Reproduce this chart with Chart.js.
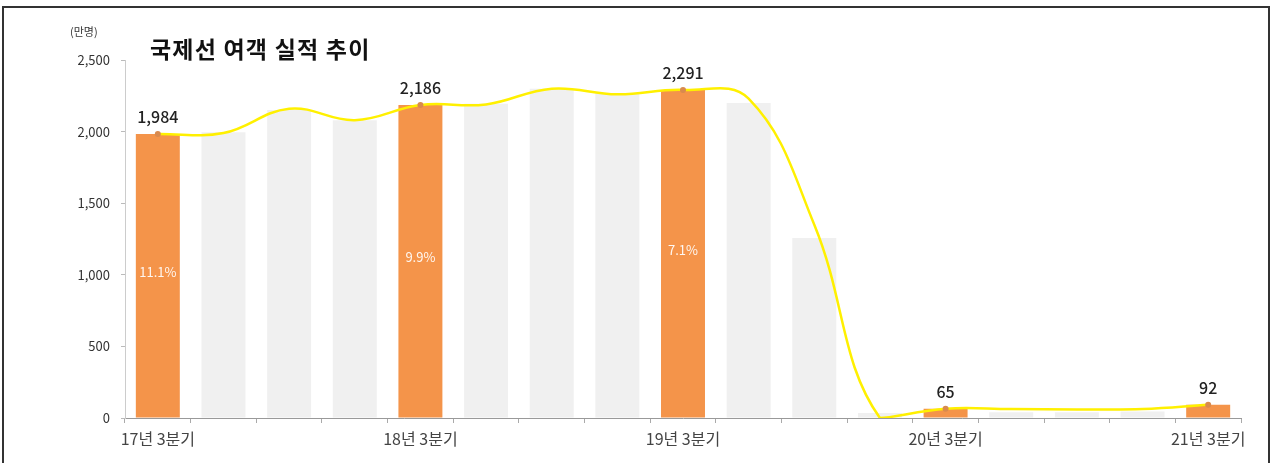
<!DOCTYPE html>
<html>
<head>
<meta charset="utf-8">
<script src="https://cdn.jsdelivr.net/npm/chart.js@4/dist/chart.umd.min.js"></script>
<style>
  html, body { margin: 0; padding: 0; background: #fff; }
  body { width: 1273px; height: 463px; position: relative; overflow: hidden; font-family: "Noto Sans CJK KR", "Noto Sans", sans-serif; }
  #frame { position: absolute; left: 2px; top: 6px; width: 1264px; height: 480px; border: 2px solid #333; border-bottom: none; }
  #chart { position: absolute; left: 0; top: 0; }
  #title { position: absolute; left: 150px; top: 33px; font-size: 23px; line-height: 30px; font-weight: bold; color: #111; letter-spacing: 1.2px; }
  #unit { position: absolute; left: 70px; top: 23px; font-size: 11px; color: #333; }
</style>
</head>
<body>
<div id="frame"></div>
<canvas id="chart" width="1273" height="463"></canvas>
<div id="unit">(만명)</div>
<div id="title">국제선 여객 실적 추이</div>
<script>
  'use strict'

  // quarters shown on the x axis
  const quarters = [
    '17년 3분기', '17년 4분기', '18년 1분기', '18년 2분기', '18년 3분기', '18년 4분기',
    '19년 1분기', '19년 2분기', '19년 3분기', '19년 4분기', '20년 1분기', '20년 2분기',
    '20년 3분기', '20년 4분기', '21년 1분기', '21년 2분기', '21년 3분기'
  ]
  // passengers (10k people) per quarter
  const passengers = [1984, 1995, 2150, 2080, 2186, 2195, 2300, 2270, 2291, 2200, 1257, 35, 65, 40, 40, 45, 92]
  // trend line drawn over the bars
  const trend = [1984, 1990, 2160, 2080, 2186, 2190, 2300, 2260, 2291, 2230, 1350, 0, 65, 62, 60, 62, 92]
  // highlighted quarters (3rd quarter of each year)
  const highlight = [0, 4, 8, 12, 16]
  // growth rate labels shown inside highlighted bars
  const growth = { 0: '11.1%', 4: '9.9%', 8: '7.1%' }
  const yTicks = [0, 500, 1000, 1500, 2000, 2500]

  const ORANGE = '#F4944A'
  const GREY = '#F0F0F0'
  const FONT = '"Noto Sans CJK KR", "Noto Sans", sans-serif'

  const barColors = passengers.map((v, i) => highlight.includes(i) ? ORANGE : GREY)
  const pointRadius = trend.map((v, i) => highlight.includes(i) ? 3 : 0)

  const labelPlugin = {
    id: 'valueLabels',
    afterDatasetsDraw(chart) {
      const ctx = chart.ctx
      const meta = chart.getDatasetMeta(1)
      ctx.save()
      ctx.textAlign = 'center'
      highlight.forEach(i => {
        const bar = meta.data[i]
        ctx.fillStyle = '#222'
        ctx.font = '500 16px ' + FONT
        ctx.textBaseline = 'bottom'
        ctx.fillText(passengers[i].toLocaleString('en-US'), bar.x, bar.y - 9)
        if (growth[i]) {
          ctx.fillStyle = 'rgba(255,255,255,0.92)'
          ctx.font = '13px ' + FONT
          ctx.textBaseline = 'middle'
          ctx.fillText(growth[i], bar.x, (bar.y + bar.base) / 2 - 4)
        }
      })
      ctx.restore()
    }
  }

  new Chart(document.getElementById('chart'), {
    data: {
      labels: quarters,
      datasets: [
        {
          type: 'line',
          data: trend,
          borderColor: '#FFF000',
          borderWidth: 2.5,
          tension: 0.4,
          pointRadius: pointRadius,
          pointBackgroundColor: '#D98A4E',
          pointBorderWidth: 0,
          order: 0
        },
        {
          type: 'bar',
          data: passengers,
          backgroundColor: barColors,
          barPercentage: 0.67,
          categoryPercentage: 1,
          order: 1
        }
      ]
    },
    options: {
      responsive: false,
      animation: false,
      layout: { padding: { left: 0, right: 32, top: 60, bottom: 0 } },
      plugins: { legend: { display: false }, tooltip: { enabled: false } },
      scales: {
        x: {
          grid: { offset: true, drawOnChartArea: false, tickLength: 5, color: '#aaa' },
          border: { color: '#999' },
          ticks: {
            autoSkip: false,
            maxRotation: 0,
            padding: 6,
            color: '#444',
            font: { family: FONT, size: 16 },
            callback: (v, i) => i % 4 === 0 ? quarters[i] : ''
          },
          afterFit: scale => { scale.height = 45 }
        },
        y: {
          min: 0,
          max: 2500,
          afterBuildTicks: scale => { scale.ticks = yTicks.map(v => ({ value: v })) },
          grid: { drawOnChartArea: false, tickLength: 4, color: '#bbb' },
          border: { color: '#ccc' },
          ticks: {
            padding: 11,
            color: '#333',
            font: { family: FONT, size: 13 },
            callback: v => v.toLocaleString('en-US')
          },
          afterFit: scale => { scale.width = 125 }
        }
      }
    },
    plugins: [labelPlugin]
  })
</script>
</body>
</html>
